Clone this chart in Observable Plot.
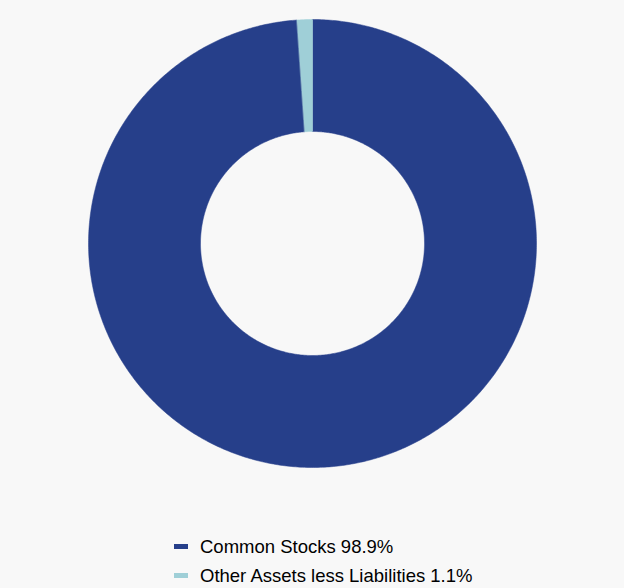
<!DOCTYPE html>
<html>
<head>
<meta charset="utf-8">
<script src="https://cdn.jsdelivr.net/npm/d3@7"></script>
<script src="https://cdn.jsdelivr.net/npm/@observablehq/plot@0.6"></script>
<style>
  html, body { margin: 0; padding: 0; background: #f8f8f8; }
  body { width: 624px; height: 588px; position: relative; overflow: hidden; font-family: "Liberation Sans", Arial, sans-serif; }
  #chart { position: absolute; left: 0; top: 0; }
  #legend { position: absolute; left: 174px; top: 532px; }
  .item { display: flex; align-items: center; height: 29px; font-size: 18.5px; color: #000; }
  .sw { width: 14px; height: 5px; margin-right: 12px; }
</style>
</head>
<body>
<div id="chart"></div>
<div id="legend"></div>
<script>
const categories = ["Common Stocks", "Other Assets less Liabilities"];
const values = [98.9, 1.1];
const colors = ["#263f8a", "#9fcfd7"];

const W = 624, H = 490, R = 224, cx = 312, cy = 243;
const innerRatio = 0.5;

const pie = d3.pie().sort(null).value(d => d.value);
const slices = pie(categories.map((c, i) => ({category: c, value: values[i]})));

// polygon outline of each slice in unit coordinates (clockwise from top)
const pts = [];
slices.forEach(s => {
  const n = Math.max(4, Math.ceil((s.endAngle - s.startAngle) / 0.01));
  for (let k = 0; k <= n; k++) {
    const a = s.startAngle + (s.endAngle - s.startAngle) * k / n;
    pts.push({category: s.data.category, x: Math.sin(a), y: Math.cos(a)});
  }
  for (let k = n; k >= 0; k--) {
    const a = s.startAngle + (s.endAngle - s.startAngle) * k / n;
    pts.push({category: s.data.category, x: innerRatio * Math.sin(a), y: innerRatio * Math.cos(a)});
  }
});

const chart = Plot.plot({
  width: W, height: H,
  margin: 0,
  style: {background: "transparent"},
  x: {domain: [-cx / R, (W - cx) / R], axis: null},
  y: {domain: [-(H - cy) / R, cy / R], axis: null},
  color: {domain: categories, range: colors},
  marks: [
    Plot.line(pts, {x: "x", y: "y", z: "category", fill: "category", stroke: "category", strokeWidth: 0.5, curve: "linear-closed"})
  ]
});
document.getElementById("chart").appendChild(chart);

const legend = document.getElementById("legend");
categories.forEach((c, i) => {
  const d = document.createElement("div");
  d.className = "item";
  d.innerHTML = `<span class="sw" style="background:${colors[i]}"></span><span>${c} ${values[i].toFixed(1)}%</span>`;
  legend.appendChild(d);
});
</script>
</body>
</html>
